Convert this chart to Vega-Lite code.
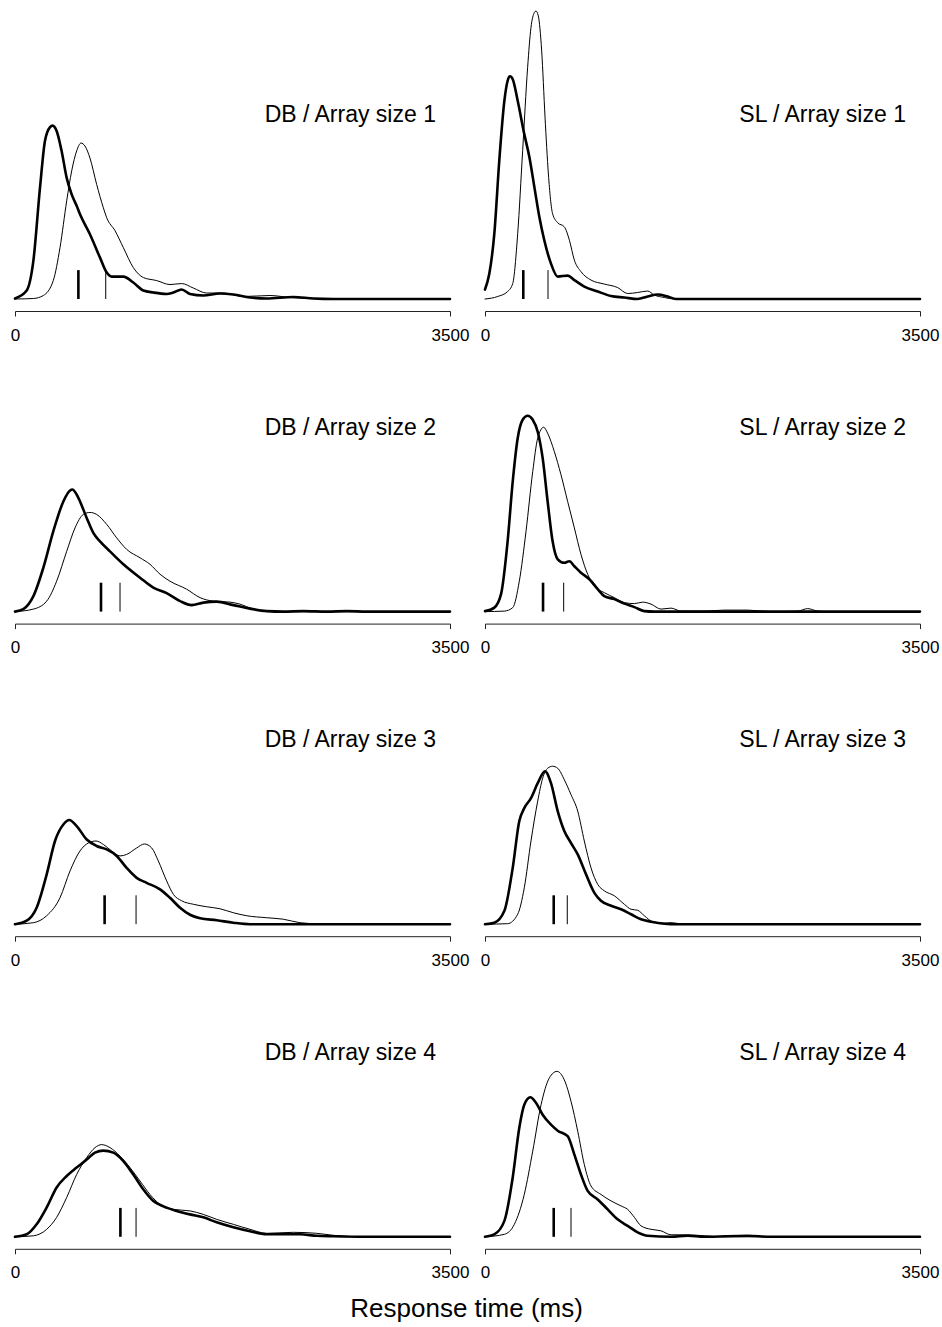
{
  "$schema": "https://vega.github.io/schema/vega-lite/v6.json",
  "padding": {"left": 10, "top": 10, "right": 3, "bottom": 0},
  "config": {"view": {"stroke": null}, "font": "Liberation Sans"},
  "title": {"text": "Response time (ms)", "orient": "bottom", "anchor": "middle", "fontSize": 26, "fontWeight": "normal", "font": "Liberation Sans", "color": "black", "offset": 15, "dx": -8},
  "data": {"values": [
    {"kind":"label","task":"DB","size":1,"label":"DB / Array size 1"},
    {"kind":"label","task":"SL","size":1,"label":"SL / Array size 1"},
    {"kind":"label","task":"DB","size":2,"label":"DB / Array size 2"},
    {"kind":"label","task":"SL","size":2,"label":"SL / Array size 2"},
    {"kind":"label","task":"DB","size":3,"label":"DB / Array size 3"},
    {"kind":"label","task":"SL","size":3,"label":"SL / Array size 3"},
    {"kind":"label","task":"DB","size":4,"label":"DB / Array size 4"},
    {"kind":"label","task":"SL","size":4,"label":"SL / Array size 4"},
    {"kind":"mean","task":"DB","size":1,"series":"A","rt":510},
    {"kind":"mean","task":"DB","size":1,"series":"B","rt":730},
    {"kind":"mean","task":"SL","size":1,"series":"A","rt":308},
    {"kind":"mean","task":"SL","size":1,"series":"B","rt":507},
    {"kind":"mean","task":"DB","size":2,"series":"A","rt":692},
    {"kind":"mean","task":"DB","size":2,"series":"B","rt":845},
    {"kind":"mean","task":"SL","size":2,"series":"A","rt":467},
    {"kind":"mean","task":"SL","size":2,"series":"B","rt":633},
    {"kind":"mean","task":"DB","size":3,"series":"A","rt":721},
    {"kind":"mean","task":"DB","size":3,"series":"B","rt":974},
    {"kind":"mean","task":"SL","size":3,"series":"A","rt":553},
    {"kind":"mean","task":"SL","size":3,"series":"B","rt":662},
    {"kind":"mean","task":"DB","size":4,"series":"A","rt":848},
    {"kind":"mean","task":"DB","size":4,"series":"B","rt":974},
    {"kind":"mean","task":"SL","size":4,"series":"A","rt":553},
    {"kind":"mean","task":"SL","size":4,"series":"B","rt":692},

    {"kind":"curve","task":"DB","size":1,"series":"A","rt":0,"d":0.01},
    {"kind":"curve","task":"DB","size":1,"series":"A","rt":94,"d":0.17},
    {"kind":"curve","task":"DB","size":1,"series":"A","rt":148,"d":0.77},
    {"kind":"curve","task":"DB","size":1,"series":"A","rt":201,"d":2.23},
    {"kind":"curve","task":"DB","size":1,"series":"A","rt":241,"d":3.17},
    {"kind":"curve","task":"DB","size":1,"series":"A","rt":282,"d":3.45},
    {"kind":"curve","task":"DB","size":1,"series":"A","rt":303,"d":3.48},
    {"kind":"curve","task":"DB","size":1,"series":"A","rt":335,"d":3.37},
    {"kind":"curve","task":"DB","size":1,"series":"A","rt":375,"d":2.97},
    {"kind":"curve","task":"DB","size":1,"series":"A","rt":416,"d":2.43},
    {"kind":"curve","task":"DB","size":1,"series":"A","rt":456,"d":2.1},
    {"kind":"curve","task":"DB","size":1,"series":"A","rt":496,"d":1.87},
    {"kind":"curve","task":"DB","size":1,"series":"A","rt":523,"d":1.7},
    {"kind":"curve","task":"DB","size":1,"series":"A","rt":603,"d":1.3},
    {"kind":"curve","task":"DB","size":1,"series":"A","rt":684,"d":0.83},
    {"kind":"curve","task":"DB","size":1,"series":"A","rt":738,"d":0.53},
    {"kind":"curve","task":"DB","size":1,"series":"A","rt":778,"d":0.45},
    {"kind":"curve","task":"DB","size":1,"series":"A","rt":872,"d":0.45},
    {"kind":"curve","task":"DB","size":1,"series":"A","rt":952,"d":0.33},
    {"kind":"curve","task":"DB","size":1,"series":"A","rt":1033,"d":0.17},
    {"kind":"curve","task":"DB","size":1,"series":"A","rt":1113,"d":0.13},
    {"kind":"curve","task":"DB","size":1,"series":"A","rt":1220,"d":0.1},
    {"kind":"curve","task":"DB","size":1,"series":"A","rt":1274,"d":0.13},
    {"kind":"curve","task":"DB","size":1,"series":"A","rt":1341,"d":0.19},
    {"kind":"curve","task":"DB","size":1,"series":"A","rt":1408,"d":0.1},
    {"kind":"curve","task":"DB","size":1,"series":"A","rt":1515,"d":0.07},
    {"kind":"curve","task":"DB","size":1,"series":"A","rt":1649,"d":0.11},
    {"kind":"curve","task":"DB","size":1,"series":"A","rt":1757,"d":0.09},
    {"kind":"curve","task":"DB","size":1,"series":"A","rt":1891,"d":0.03},
    {"kind":"curve","task":"DB","size":1,"series":"A","rt":2025,"d":0.01},
    {"kind":"curve","task":"DB","size":1,"series":"A","rt":2239,"d":0.04},
    {"kind":"curve","task":"DB","size":1,"series":"A","rt":2400,"d":0.01},
    {"kind":"curve","task":"DB","size":1,"series":"A","rt":2561,"d":0},
    {"kind":"curve","task":"DB","size":1,"series":"A","rt":3500,"d":0},

    {"kind":"curve","task":"DB","size":1,"series":"B","rt":0,"d":0},
    {"kind":"curve","task":"DB","size":1,"series":"B","rt":148,"d":0.01},
    {"kind":"curve","task":"DB","size":1,"series":"B","rt":228,"d":0.07},
    {"kind":"curve","task":"DB","size":1,"series":"B","rt":308,"d":0.37},
    {"kind":"curve","task":"DB","size":1,"series":"B","rt":362,"d":1.03},
    {"kind":"curve","task":"DB","size":1,"series":"B","rt":416,"d":1.97},
    {"kind":"curve","task":"DB","size":1,"series":"B","rt":456,"d":2.57},
    {"kind":"curve","task":"DB","size":1,"series":"B","rt":496,"d":2.97},
    {"kind":"curve","task":"DB","size":1,"series":"B","rt":531,"d":3.13},
    {"kind":"curve","task":"DB","size":1,"series":"B","rt":563,"d":3.07},
    {"kind":"curve","task":"DB","size":1,"series":"B","rt":603,"d":2.83},
    {"kind":"curve","task":"DB","size":1,"series":"B","rt":657,"d":2.3},
    {"kind":"curve","task":"DB","size":1,"series":"B","rt":711,"d":1.83},
    {"kind":"curve","task":"DB","size":1,"series":"B","rt":738,"d":1.63},
    {"kind":"curve","task":"DB","size":1,"series":"B","rt":805,"d":1.37},
    {"kind":"curve","task":"DB","size":1,"series":"B","rt":872,"d":1.03},
    {"kind":"curve","task":"DB","size":1,"series":"B","rt":952,"d":0.63},
    {"kind":"curve","task":"DB","size":1,"series":"B","rt":1033,"d":0.43},
    {"kind":"curve","task":"DB","size":1,"series":"B","rt":1140,"d":0.37},
    {"kind":"curve","task":"DB","size":1,"series":"B","rt":1247,"d":0.29},
    {"kind":"curve","task":"DB","size":1,"series":"B","rt":1341,"d":0.31},
    {"kind":"curve","task":"DB","size":1,"series":"B","rt":1435,"d":0.22},
    {"kind":"curve","task":"DB","size":1,"series":"B","rt":1542,"d":0.12},
    {"kind":"curve","task":"DB","size":1,"series":"B","rt":1676,"d":0.12},
    {"kind":"curve","task":"DB","size":1,"series":"B","rt":1837,"d":0.05},
    {"kind":"curve","task":"DB","size":1,"series":"B","rt":2052,"d":0.07},
    {"kind":"curve","task":"DB","size":1,"series":"B","rt":2213,"d":0.03},
    {"kind":"curve","task":"DB","size":1,"series":"B","rt":2400,"d":0.01},
    {"kind":"curve","task":"DB","size":1,"series":"B","rt":2600,"d":0},
    {"kind":"curve","task":"DB","size":1,"series":"B","rt":3500,"d":0},

    {"kind":"curve","task":"SL","size":1,"series":"A","rt":0,"d":0.19},
    {"kind":"curve","task":"SL","size":1,"series":"A","rt":35,"d":0.51},
    {"kind":"curve","task":"SL","size":1,"series":"A","rt":75,"d":1.31},
    {"kind":"curve","task":"SL","size":1,"series":"A","rt":115,"d":2.78},
    {"kind":"curve","task":"SL","size":1,"series":"A","rt":156,"d":3.98},
    {"kind":"curve","task":"SL","size":1,"series":"A","rt":182,"d":4.38},
    {"kind":"curve","task":"SL","size":1,"series":"A","rt":201,"d":4.47},
    {"kind":"curve","task":"SL","size":1,"series":"A","rt":223,"d":4.41},
    {"kind":"curve","task":"SL","size":1,"series":"A","rt":263,"d":3.98},
    {"kind":"curve","task":"SL","size":1,"series":"A","rt":316,"d":3.31},
    {"kind":"curve","task":"SL","size":1,"series":"A","rt":357,"d":2.85},
    {"kind":"curve","task":"SL","size":1,"series":"A","rt":397,"d":2.25},
    {"kind":"curve","task":"SL","size":1,"series":"A","rt":437,"d":1.65},
    {"kind":"curve","task":"SL","size":1,"series":"A","rt":477,"d":1.18},
    {"kind":"curve","task":"SL","size":1,"series":"A","rt":531,"d":0.71},
    {"kind":"curve","task":"SL","size":1,"series":"A","rt":585,"d":0.45},
    {"kind":"curve","task":"SL","size":1,"series":"A","rt":665,"d":0.47},
    {"kind":"curve","task":"SL","size":1,"series":"A","rt":719,"d":0.38},
    {"kind":"curve","task":"SL","size":1,"series":"A","rt":799,"d":0.25},
    {"kind":"curve","task":"SL","size":1,"series":"A","rt":907,"d":0.15},
    {"kind":"curve","task":"SL","size":1,"series":"A","rt":1014,"d":0.06},
    {"kind":"curve","task":"SL","size":1,"series":"A","rt":1121,"d":0.03},
    {"kind":"curve","task":"SL","size":1,"series":"A","rt":1228,"d":0},
    {"kind":"curve","task":"SL","size":1,"series":"A","rt":1309,"d":0.05},
    {"kind":"curve","task":"SL","size":1,"series":"A","rt":1389,"d":0.09},
    {"kind":"curve","task":"SL","size":1,"series":"A","rt":1470,"d":0.05},
    {"kind":"curve","task":"SL","size":1,"series":"A","rt":1537,"d":0},
    {"kind":"curve","task":"SL","size":1,"series":"A","rt":3500,"d":0},

    {"kind":"curve","task":"SL","size":1,"series":"B","rt":0,"d":0},
    {"kind":"curve","task":"SL","size":1,"series":"B","rt":102,"d":0.05},
    {"kind":"curve","task":"SL","size":1,"series":"B","rt":182,"d":0.15},
    {"kind":"curve","task":"SL","size":1,"series":"B","rt":223,"d":0.31},
    {"kind":"curve","task":"SL","size":1,"series":"B","rt":263,"d":1.31},
    {"kind":"curve","task":"SL","size":1,"series":"B","rt":303,"d":2.98},
    {"kind":"curve","task":"SL","size":1,"series":"B","rt":343,"d":4.65},
    {"kind":"curve","task":"SL","size":1,"series":"B","rt":370,"d":5.45},
    {"kind":"curve","task":"SL","size":1,"series":"B","rt":397,"d":5.75},
    {"kind":"curve","task":"SL","size":1,"series":"B","rt":410,"d":5.78},
    {"kind":"curve","task":"SL","size":1,"series":"B","rt":429,"d":5.68},
    {"kind":"curve","task":"SL","size":1,"series":"B","rt":456,"d":4.98},
    {"kind":"curve","task":"SL","size":1,"series":"B","rt":483,"d":3.65},
    {"kind":"curve","task":"SL","size":1,"series":"B","rt":510,"d":2.51},
    {"kind":"curve","task":"SL","size":1,"series":"B","rt":544,"d":1.71},
    {"kind":"curve","task":"SL","size":1,"series":"B","rt":585,"d":1.53},
    {"kind":"curve","task":"SL","size":1,"series":"B","rt":638,"d":1.45},
    {"kind":"curve","task":"SL","size":1,"series":"B","rt":679,"d":1.18},
    {"kind":"curve","task":"SL","size":1,"series":"B","rt":719,"d":0.78},
    {"kind":"curve","task":"SL","size":1,"series":"B","rt":772,"d":0.55},
    {"kind":"curve","task":"SL","size":1,"series":"B","rt":853,"d":0.38},
    {"kind":"curve","task":"SL","size":1,"series":"B","rt":960,"d":0.3},
    {"kind":"curve","task":"SL","size":1,"series":"B","rt":1067,"d":0.23},
    {"kind":"curve","task":"SL","size":1,"series":"B","rt":1148,"d":0.11},
    {"kind":"curve","task":"SL","size":1,"series":"B","rt":1228,"d":0.13},
    {"kind":"curve","task":"SL","size":1,"series":"B","rt":1309,"d":0.16},
    {"kind":"curve","task":"SL","size":1,"series":"B","rt":1362,"d":0.08},
    {"kind":"curve","task":"SL","size":1,"series":"B","rt":1443,"d":0.03},
    {"kind":"curve","task":"SL","size":1,"series":"B","rt":1523,"d":0},
    {"kind":"curve","task":"SL","size":1,"series":"B","rt":3500,"d":0},

    {"kind":"curve","task":"DB","size":2,"series":"A","rt":0,"d":0},
    {"kind":"curve","task":"DB","size":2,"series":"A","rt":67,"d":0.05},
    {"kind":"curve","task":"DB","size":2,"series":"A","rt":148,"d":0.31},
    {"kind":"curve","task":"DB","size":2,"series":"A","rt":228,"d":0.88},
    {"kind":"curve","task":"DB","size":2,"series":"A","rt":308,"d":1.61},
    {"kind":"curve","task":"DB","size":2,"series":"A","rt":389,"d":2.21},
    {"kind":"curve","task":"DB","size":2,"series":"A","rt":443,"d":2.43},
    {"kind":"curve","task":"DB","size":2,"series":"A","rt":461,"d":2.45},
    {"kind":"curve","task":"DB","size":2,"series":"A","rt":496,"d":2.35},
    {"kind":"curve","task":"DB","size":2,"series":"A","rt":523,"d":2.21},
    {"kind":"curve","task":"DB","size":2,"series":"A","rt":577,"d":1.88},
    {"kind":"curve","task":"DB","size":2,"series":"A","rt":630,"d":1.58},
    {"kind":"curve","task":"DB","size":2,"series":"A","rt":684,"d":1.41},
    {"kind":"curve","task":"DB","size":2,"series":"A","rt":764,"d":1.21},
    {"kind":"curve","task":"DB","size":2,"series":"A","rt":872,"d":0.95},
    {"kind":"curve","task":"DB","size":2,"series":"A","rt":1006,"d":0.68},
    {"kind":"curve","task":"DB","size":2,"series":"A","rt":1113,"d":0.48},
    {"kind":"curve","task":"DB","size":2,"series":"A","rt":1220,"d":0.37},
    {"kind":"curve","task":"DB","size":2,"series":"A","rt":1328,"d":0.21},
    {"kind":"curve","task":"DB","size":2,"series":"A","rt":1421,"d":0.13},
    {"kind":"curve","task":"DB","size":2,"series":"A","rt":1515,"d":0.18},
    {"kind":"curve","task":"DB","size":2,"series":"A","rt":1623,"d":0.2},
    {"kind":"curve","task":"DB","size":2,"series":"A","rt":1757,"d":0.13},
    {"kind":"curve","task":"DB","size":2,"series":"A","rt":1891,"d":0.06},
    {"kind":"curve","task":"DB","size":2,"series":"A","rt":2025,"d":0.01},
    {"kind":"curve","task":"DB","size":2,"series":"A","rt":2159,"d":0},
    {"kind":"curve","task":"DB","size":2,"series":"A","rt":2320,"d":0.01},
    {"kind":"curve","task":"DB","size":2,"series":"A","rt":2508,"d":0},
    {"kind":"curve","task":"DB","size":2,"series":"A","rt":2669,"d":0.01},
    {"kind":"curve","task":"DB","size":2,"series":"A","rt":2830,"d":0},
    {"kind":"curve","task":"DB","size":2,"series":"A","rt":3500,"d":0},

    {"kind":"curve","task":"DB","size":2,"series":"B","rt":0,"d":0},
    {"kind":"curve","task":"DB","size":2,"series":"B","rt":148,"d":0.05},
    {"kind":"curve","task":"DB","size":2,"series":"B","rt":255,"d":0.21},
    {"kind":"curve","task":"DB","size":2,"series":"B","rt":335,"d":0.61},
    {"kind":"curve","task":"DB","size":2,"series":"B","rt":416,"d":1.21},
    {"kind":"curve","task":"DB","size":2,"series":"B","rt":483,"d":1.68},
    {"kind":"curve","task":"DB","size":2,"series":"B","rt":550,"d":1.95},
    {"kind":"curve","task":"DB","size":2,"series":"B","rt":603,"d":1.99},
    {"kind":"curve","task":"DB","size":2,"series":"B","rt":657,"d":1.95},
    {"kind":"curve","task":"DB","size":2,"series":"B","rt":738,"d":1.75},
    {"kind":"curve","task":"DB","size":2,"series":"B","rt":818,"d":1.48},
    {"kind":"curve","task":"DB","size":2,"series":"B","rt":898,"d":1.25},
    {"kind":"curve","task":"DB","size":2,"series":"B","rt":1006,"d":1.08},
    {"kind":"curve","task":"DB","size":2,"series":"B","rt":1086,"d":0.95},
    {"kind":"curve","task":"DB","size":2,"series":"B","rt":1167,"d":0.75},
    {"kind":"curve","task":"DB","size":2,"series":"B","rt":1247,"d":0.61},
    {"kind":"curve","task":"DB","size":2,"series":"B","rt":1381,"d":0.45},
    {"kind":"curve","task":"DB","size":2,"series":"B","rt":1489,"d":0.28},
    {"kind":"curve","task":"DB","size":2,"series":"B","rt":1596,"d":0.21},
    {"kind":"curve","task":"DB","size":2,"series":"B","rt":1730,"d":0.19},
    {"kind":"curve","task":"DB","size":2,"series":"B","rt":1810,"d":0.15},
    {"kind":"curve","task":"DB","size":2,"series":"B","rt":1918,"d":0.05},
    {"kind":"curve","task":"DB","size":2,"series":"B","rt":2025,"d":0.01},
    {"kind":"curve","task":"DB","size":2,"series":"B","rt":2159,"d":0},
    {"kind":"curve","task":"DB","size":2,"series":"B","rt":3500,"d":0},

    {"kind":"curve","task":"SL","size":2,"series":"A","rt":0,"d":0.01},
    {"kind":"curve","task":"SL","size":2,"series":"A","rt":75,"d":0.08},
    {"kind":"curve","task":"SL","size":2,"series":"A","rt":129,"d":0.35},
    {"kind":"curve","task":"SL","size":2,"series":"A","rt":182,"d":1.41},
    {"kind":"curve","task":"SL","size":2,"series":"A","rt":223,"d":2.61},
    {"kind":"curve","task":"SL","size":2,"series":"A","rt":263,"d":3.48},
    {"kind":"curve","task":"SL","size":2,"series":"A","rt":303,"d":3.85},
    {"kind":"curve","task":"SL","size":2,"series":"A","rt":343,"d":3.93},
    {"kind":"curve","task":"SL","size":2,"series":"A","rt":384,"d":3.85},
    {"kind":"curve","task":"SL","size":2,"series":"A","rt":424,"d":3.61},
    {"kind":"curve","task":"SL","size":2,"series":"A","rt":464,"d":3.08},
    {"kind":"curve","task":"SL","size":2,"series":"A","rt":504,"d":2.21},
    {"kind":"curve","task":"SL","size":2,"series":"A","rt":544,"d":1.41},
    {"kind":"curve","task":"SL","size":2,"series":"A","rt":585,"d":1.05},
    {"kind":"curve","task":"SL","size":2,"series":"A","rt":638,"d":0.98},
    {"kind":"curve","task":"SL","size":2,"series":"A","rt":679,"d":1.01},
    {"kind":"curve","task":"SL","size":2,"series":"A","rt":719,"d":0.91},
    {"kind":"curve","task":"SL","size":2,"series":"A","rt":772,"d":0.78},
    {"kind":"curve","task":"SL","size":2,"series":"A","rt":840,"d":0.65},
    {"kind":"curve","task":"SL","size":2,"series":"A","rt":907,"d":0.45},
    {"kind":"curve","task":"SL","size":2,"series":"A","rt":960,"d":0.31},
    {"kind":"curve","task":"SL","size":2,"series":"A","rt":1041,"d":0.25},
    {"kind":"curve","task":"SL","size":2,"series":"A","rt":1121,"d":0.16},
    {"kind":"curve","task":"SL","size":2,"series":"A","rt":1202,"d":0.09},
    {"kind":"curve","task":"SL","size":2,"series":"A","rt":1282,"d":0.01},
    {"kind":"curve","task":"SL","size":2,"series":"A","rt":1362,"d":0},
    {"kind":"curve","task":"SL","size":2,"series":"A","rt":3500,"d":0},

    {"kind":"curve","task":"SL","size":2,"series":"B","rt":0,"d":0},
    {"kind":"curve","task":"SL","size":2,"series":"B","rt":156,"d":0.01},
    {"kind":"curve","task":"SL","size":2,"series":"B","rt":223,"d":0.08},
    {"kind":"curve","task":"SL","size":2,"series":"B","rt":276,"d":0.61},
    {"kind":"curve","task":"SL","size":2,"series":"B","rt":330,"d":1.61},
    {"kind":"curve","task":"SL","size":2,"series":"B","rt":384,"d":2.81},
    {"kind":"curve","task":"SL","size":2,"series":"B","rt":424,"d":3.48},
    {"kind":"curve","task":"SL","size":2,"series":"B","rt":472,"d":3.7},
    {"kind":"curve","task":"SL","size":2,"series":"B","rt":504,"d":3.58},
    {"kind":"curve","task":"SL","size":2,"series":"B","rt":558,"d":3.21},
    {"kind":"curve","task":"SL","size":2,"series":"B","rt":611,"d":2.75},
    {"kind":"curve","task":"SL","size":2,"series":"B","rt":665,"d":2.21},
    {"kind":"curve","task":"SL","size":2,"series":"B","rt":719,"d":1.68},
    {"kind":"curve","task":"SL","size":2,"series":"B","rt":772,"d":1.15},
    {"kind":"curve","task":"SL","size":2,"series":"B","rt":826,"d":0.75},
    {"kind":"curve","task":"SL","size":2,"series":"B","rt":880,"d":0.51},
    {"kind":"curve","task":"SL","size":2,"series":"B","rt":960,"d":0.38},
    {"kind":"curve","task":"SL","size":2,"series":"B","rt":1041,"d":0.28},
    {"kind":"curve","task":"SL","size":2,"series":"B","rt":1121,"d":0.18},
    {"kind":"curve","task":"SL","size":2,"series":"B","rt":1202,"d":0.16},
    {"kind":"curve","task":"SL","size":2,"series":"B","rt":1269,"d":0.19},
    {"kind":"curve","task":"SL","size":2,"series":"B","rt":1336,"d":0.15},
    {"kind":"curve","task":"SL","size":2,"series":"B","rt":1416,"d":0.05},
    {"kind":"curve","task":"SL","size":2,"series":"B","rt":1497,"d":0.07},
    {"kind":"curve","task":"SL","size":2,"series":"B","rt":1577,"d":0.01},
    {"kind":"curve","task":"SL","size":2,"series":"B","rt":1765,"d":0.01},
    {"kind":"curve","task":"SL","size":2,"series":"B","rt":1926,"d":0.03},
    {"kind":"curve","task":"SL","size":2,"series":"B","rt":2113,"d":0.03},
    {"kind":"curve","task":"SL","size":2,"series":"B","rt":2301,"d":0},
    {"kind":"curve","task":"SL","size":2,"series":"B","rt":2516,"d":0.01},
    {"kind":"curve","task":"SL","size":2,"series":"B","rt":2596,"d":0.06},
    {"kind":"curve","task":"SL","size":2,"series":"B","rt":2677,"d":0.01},
    {"kind":"curve","task":"SL","size":2,"series":"B","rt":2757,"d":0},
    {"kind":"curve","task":"SL","size":2,"series":"B","rt":3500,"d":0},

    {"kind":"curve","task":"DB","size":3,"series":"A","rt":0,"d":0},
    {"kind":"curve","task":"DB","size":3,"series":"A","rt":94,"d":0.07},
    {"kind":"curve","task":"DB","size":3,"series":"A","rt":174,"d":0.33},
    {"kind":"curve","task":"DB","size":3,"series":"A","rt":255,"d":1.0},
    {"kind":"curve","task":"DB","size":3,"series":"A","rt":322,"d":1.67},
    {"kind":"curve","task":"DB","size":3,"series":"A","rt":389,"d":2.0},
    {"kind":"curve","task":"DB","size":3,"series":"A","rt":437,"d":2.09},
    {"kind":"curve","task":"DB","size":3,"series":"A","rt":496,"d":1.97},
    {"kind":"curve","task":"DB","size":3,"series":"A","rt":577,"d":1.7},
    {"kind":"curve","task":"DB","size":3,"series":"A","rt":657,"d":1.57},
    {"kind":"curve","task":"DB","size":3,"series":"A","rt":738,"d":1.5},
    {"kind":"curve","task":"DB","size":3,"series":"A","rt":818,"d":1.37},
    {"kind":"curve","task":"DB","size":3,"series":"A","rt":898,"d":1.13},
    {"kind":"curve","task":"DB","size":3,"series":"A","rt":979,"d":0.93},
    {"kind":"curve","task":"DB","size":3,"series":"A","rt":1059,"d":0.83},
    {"kind":"curve","task":"DB","size":3,"series":"A","rt":1167,"d":0.7},
    {"kind":"curve","task":"DB","size":3,"series":"A","rt":1247,"d":0.53},
    {"kind":"curve","task":"DB","size":3,"series":"A","rt":1328,"d":0.33},
    {"kind":"curve","task":"DB","size":3,"series":"A","rt":1408,"d":0.19},
    {"kind":"curve","task":"DB","size":3,"series":"A","rt":1489,"d":0.12},
    {"kind":"curve","task":"DB","size":3,"series":"A","rt":1623,"d":0.08},
    {"kind":"curve","task":"DB","size":3,"series":"A","rt":1757,"d":0.03},
    {"kind":"curve","task":"DB","size":3,"series":"A","rt":1891,"d":0},
    {"kind":"curve","task":"DB","size":3,"series":"A","rt":3500,"d":0},

    {"kind":"curve","task":"DB","size":3,"series":"B","rt":0,"d":0},
    {"kind":"curve","task":"DB","size":3,"series":"B","rt":148,"d":0.03},
    {"kind":"curve","task":"DB","size":3,"series":"B","rt":255,"d":0.17},
    {"kind":"curve","task":"DB","size":3,"series":"B","rt":362,"d":0.53},
    {"kind":"curve","task":"DB","size":3,"series":"B","rt":443,"d":1.07},
    {"kind":"curve","task":"DB","size":3,"series":"B","rt":523,"d":1.47},
    {"kind":"curve","task":"DB","size":3,"series":"B","rt":590,"d":1.63},
    {"kind":"curve","task":"DB","size":3,"series":"B","rt":652,"d":1.67},
    {"kind":"curve","task":"DB","size":3,"series":"B","rt":711,"d":1.6},
    {"kind":"curve","task":"DB","size":3,"series":"B","rt":778,"d":1.47},
    {"kind":"curve","task":"DB","size":3,"series":"B","rt":845,"d":1.37},
    {"kind":"curve","task":"DB","size":3,"series":"B","rt":898,"d":1.4},
    {"kind":"curve","task":"DB","size":3,"series":"B","rt":979,"d":1.53},
    {"kind":"curve","task":"DB","size":3,"series":"B","rt":1041,"d":1.61},
    {"kind":"curve","task":"DB","size":3,"series":"B","rt":1100,"d":1.53},
    {"kind":"curve","task":"DB","size":3,"series":"B","rt":1153,"d":1.27},
    {"kind":"curve","task":"DB","size":3,"series":"B","rt":1220,"d":0.87},
    {"kind":"curve","task":"DB","size":3,"series":"B","rt":1274,"d":0.6},
    {"kind":"curve","task":"DB","size":3,"series":"B","rt":1341,"d":0.47},
    {"kind":"curve","task":"DB","size":3,"series":"B","rt":1435,"d":0.4},
    {"kind":"curve","task":"DB","size":3,"series":"B","rt":1542,"d":0.35},
    {"kind":"curve","task":"DB","size":3,"series":"B","rt":1649,"d":0.31},
    {"kind":"curve","task":"DB","size":3,"series":"B","rt":1757,"d":0.23},
    {"kind":"curve","task":"DB","size":3,"series":"B","rt":1864,"d":0.17},
    {"kind":"curve","task":"DB","size":3,"series":"B","rt":2025,"d":0.13},
    {"kind":"curve","task":"DB","size":3,"series":"B","rt":2159,"d":0.1},
    {"kind":"curve","task":"DB","size":3,"series":"B","rt":2293,"d":0.03},
    {"kind":"curve","task":"DB","size":3,"series":"B","rt":2427,"d":0.01},
    {"kind":"curve","task":"DB","size":3,"series":"B","rt":2669,"d":0.01},
    {"kind":"curve","task":"DB","size":3,"series":"B","rt":2830,"d":0},
    {"kind":"curve","task":"DB","size":3,"series":"B","rt":3500,"d":0},

    {"kind":"curve","task":"SL","size":3,"series":"A","rt":0,"d":0},
    {"kind":"curve","task":"SL","size":3,"series":"A","rt":75,"d":0.03},
    {"kind":"curve","task":"SL","size":3,"series":"A","rt":156,"d":0.27},
    {"kind":"curve","task":"SL","size":3,"series":"A","rt":223,"d":1.13},
    {"kind":"curve","task":"SL","size":3,"series":"A","rt":276,"d":2.07},
    {"kind":"curve","task":"SL","size":3,"series":"A","rt":316,"d":2.33},
    {"kind":"curve","task":"SL","size":3,"series":"A","rt":370,"d":2.53},
    {"kind":"curve","task":"SL","size":3,"series":"A","rt":424,"d":2.83},
    {"kind":"curve","task":"SL","size":3,"series":"A","rt":483,"d":3.07},
    {"kind":"curve","task":"SL","size":3,"series":"A","rt":531,"d":2.83},
    {"kind":"curve","task":"SL","size":3,"series":"A","rt":585,"d":2.27},
    {"kind":"curve","task":"SL","size":3,"series":"A","rt":638,"d":1.87},
    {"kind":"curve","task":"SL","size":3,"series":"A","rt":692,"d":1.63},
    {"kind":"curve","task":"SL","size":3,"series":"A","rt":746,"d":1.4},
    {"kind":"curve","task":"SL","size":3,"series":"A","rt":813,"d":1.0},
    {"kind":"curve","task":"SL","size":3,"series":"A","rt":880,"d":0.63},
    {"kind":"curve","task":"SL","size":3,"series":"A","rt":933,"d":0.47},
    {"kind":"curve","task":"SL","size":3,"series":"A","rt":1014,"d":0.37},
    {"kind":"curve","task":"SL","size":3,"series":"A","rt":1094,"d":0.3},
    {"kind":"curve","task":"SL","size":3,"series":"A","rt":1175,"d":0.2},
    {"kind":"curve","task":"SL","size":3,"series":"A","rt":1255,"d":0.1},
    {"kind":"curve","task":"SL","size":3,"series":"A","rt":1336,"d":0.05},
    {"kind":"curve","task":"SL","size":3,"series":"A","rt":1443,"d":0.01},
    {"kind":"curve","task":"SL","size":3,"series":"A","rt":1550,"d":0},
    {"kind":"curve","task":"SL","size":3,"series":"A","rt":3500,"d":0},

    {"kind":"curve","task":"SL","size":3,"series":"B","rt":0,"d":0},
    {"kind":"curve","task":"SL","size":3,"series":"B","rt":182,"d":0.01},
    {"kind":"curve","task":"SL","size":3,"series":"B","rt":263,"d":0.2},
    {"kind":"curve","task":"SL","size":3,"series":"B","rt":316,"d":0.73},
    {"kind":"curve","task":"SL","size":3,"series":"B","rt":370,"d":1.67},
    {"kind":"curve","task":"SL","size":3,"series":"B","rt":424,"d":2.47},
    {"kind":"curve","task":"SL","size":3,"series":"B","rt":464,"d":2.93},
    {"kind":"curve","task":"SL","size":3,"series":"B","rt":504,"d":3.13},
    {"kind":"curve","task":"SL","size":3,"series":"B","rt":544,"d":3.17},
    {"kind":"curve","task":"SL","size":3,"series":"B","rt":585,"d":3.13},
    {"kind":"curve","task":"SL","size":3,"series":"B","rt":638,"d":2.9},
    {"kind":"curve","task":"SL","size":3,"series":"B","rt":692,"d":2.6},
    {"kind":"curve","task":"SL","size":3,"series":"B","rt":746,"d":2.27},
    {"kind":"curve","task":"SL","size":3,"series":"B","rt":799,"d":1.67},
    {"kind":"curve","task":"SL","size":3,"series":"B","rt":853,"d":1.13},
    {"kind":"curve","task":"SL","size":3,"series":"B","rt":907,"d":0.8},
    {"kind":"curve","task":"SL","size":3,"series":"B","rt":960,"d":0.67},
    {"kind":"curve","task":"SL","size":3,"series":"B","rt":1041,"d":0.57},
    {"kind":"curve","task":"SL","size":3,"series":"B","rt":1121,"d":0.4},
    {"kind":"curve","task":"SL","size":3,"series":"B","rt":1175,"d":0.3},
    {"kind":"curve","task":"SL","size":3,"series":"B","rt":1228,"d":0.28},
    {"kind":"curve","task":"SL","size":3,"series":"B","rt":1282,"d":0.17},
    {"kind":"curve","task":"SL","size":3,"series":"B","rt":1349,"d":0.05},
    {"kind":"curve","task":"SL","size":3,"series":"B","rt":1443,"d":0.02},
    {"kind":"curve","task":"SL","size":3,"series":"B","rt":1497,"d":0.03},
    {"kind":"curve","task":"SL","size":3,"series":"B","rt":1604,"d":0},
    {"kind":"curve","task":"SL","size":3,"series":"B","rt":3500,"d":0},

    {"kind":"curve","task":"DB","size":4,"series":"A","rt":0,"d":0},
    {"kind":"curve","task":"DB","size":4,"series":"A","rt":94,"d":0.05},
    {"kind":"curve","task":"DB","size":4,"series":"A","rt":174,"d":0.25},
    {"kind":"curve","task":"DB","size":4,"series":"A","rt":255,"d":0.59},
    {"kind":"curve","task":"DB","size":4,"series":"A","rt":335,"d":0.99},
    {"kind":"curve","task":"DB","size":4,"series":"A","rt":416,"d":1.22},
    {"kind":"curve","task":"DB","size":4,"series":"A","rt":496,"d":1.39},
    {"kind":"curve","task":"DB","size":4,"series":"A","rt":577,"d":1.55},
    {"kind":"curve","task":"DB","size":4,"series":"A","rt":644,"d":1.69},
    {"kind":"curve","task":"DB","size":4,"series":"A","rt":711,"d":1.73},
    {"kind":"curve","task":"DB","size":4,"series":"A","rt":791,"d":1.69},
    {"kind":"curve","task":"DB","size":4,"series":"A","rt":872,"d":1.52},
    {"kind":"curve","task":"DB","size":4,"series":"A","rt":952,"d":1.25},
    {"kind":"curve","task":"DB","size":4,"series":"A","rt":1033,"d":0.95},
    {"kind":"curve","task":"DB","size":4,"series":"A","rt":1113,"d":0.72},
    {"kind":"curve","task":"DB","size":4,"series":"A","rt":1194,"d":0.61},
    {"kind":"curve","task":"DB","size":4,"series":"A","rt":1301,"d":0.52},
    {"kind":"curve","task":"DB","size":4,"series":"A","rt":1408,"d":0.45},
    {"kind":"curve","task":"DB","size":4,"series":"A","rt":1515,"d":0.39},
    {"kind":"curve","task":"DB","size":4,"series":"A","rt":1623,"d":0.29},
    {"kind":"curve","task":"DB","size":4,"series":"A","rt":1757,"d":0.19},
    {"kind":"curve","task":"DB","size":4,"series":"A","rt":1891,"d":0.11},
    {"kind":"curve","task":"DB","size":4,"series":"A","rt":2025,"d":0.05},
    {"kind":"curve","task":"DB","size":4,"series":"A","rt":2159,"d":0.05},
    {"kind":"curve","task":"DB","size":4,"series":"A","rt":2293,"d":0.05},
    {"kind":"curve","task":"DB","size":4,"series":"A","rt":2427,"d":0.02},
    {"kind":"curve","task":"DB","size":4,"series":"A","rt":2561,"d":0.01},
    {"kind":"curve","task":"DB","size":4,"series":"A","rt":2830,"d":0},
    {"kind":"curve","task":"DB","size":4,"series":"A","rt":3500,"d":0},

    {"kind":"curve","task":"DB","size":4,"series":"B","rt":0,"d":0},
    {"kind":"curve","task":"DB","size":4,"series":"B","rt":148,"d":0.02},
    {"kind":"curve","task":"DB","size":4,"series":"B","rt":255,"d":0.15},
    {"kind":"curve","task":"DB","size":4,"series":"B","rt":335,"d":0.39},
    {"kind":"curve","task":"DB","size":4,"series":"B","rt":416,"d":0.79},
    {"kind":"curve","task":"DB","size":4,"series":"B","rt":496,"d":1.25},
    {"kind":"curve","task":"DB","size":4,"series":"B","rt":577,"d":1.59},
    {"kind":"curve","task":"DB","size":4,"series":"B","rt":644,"d":1.79},
    {"kind":"curve","task":"DB","size":4,"series":"B","rt":697,"d":1.85},
    {"kind":"curve","task":"DB","size":4,"series":"B","rt":764,"d":1.79},
    {"kind":"curve","task":"DB","size":4,"series":"B","rt":845,"d":1.62},
    {"kind":"curve","task":"DB","size":4,"series":"B","rt":925,"d":1.39},
    {"kind":"curve","task":"DB","size":4,"series":"B","rt":1006,"d":1.12},
    {"kind":"curve","task":"DB","size":4,"series":"B","rt":1086,"d":0.85},
    {"kind":"curve","task":"DB","size":4,"series":"B","rt":1167,"d":0.65},
    {"kind":"curve","task":"DB","size":4,"series":"B","rt":1274,"d":0.55},
    {"kind":"curve","task":"DB","size":4,"series":"B","rt":1408,"d":0.52},
    {"kind":"curve","task":"DB","size":4,"series":"B","rt":1515,"d":0.45},
    {"kind":"curve","task":"DB","size":4,"series":"B","rt":1623,"d":0.35},
    {"kind":"curve","task":"DB","size":4,"series":"B","rt":1757,"d":0.25},
    {"kind":"curve","task":"DB","size":4,"series":"B","rt":1891,"d":0.15},
    {"kind":"curve","task":"DB","size":4,"series":"B","rt":2025,"d":0.07},
    {"kind":"curve","task":"DB","size":4,"series":"B","rt":2239,"d":0.09},
    {"kind":"curve","task":"DB","size":4,"series":"B","rt":2427,"d":0.07},
    {"kind":"curve","task":"DB","size":4,"series":"B","rt":2561,"d":0.03},
    {"kind":"curve","task":"DB","size":4,"series":"B","rt":2776,"d":0},
    {"kind":"curve","task":"DB","size":4,"series":"B","rt":3500,"d":0},

    {"kind":"curve","task":"SL","size":4,"series":"A","rt":0,"d":0},
    {"kind":"curve","task":"SL","size":4,"series":"A","rt":75,"d":0.05},
    {"kind":"curve","task":"SL","size":4,"series":"A","rt":156,"d":0.32},
    {"kind":"curve","task":"SL","size":4,"series":"A","rt":223,"d":1.19},
    {"kind":"curve","task":"SL","size":4,"series":"A","rt":276,"d":2.19},
    {"kind":"curve","task":"SL","size":4,"series":"A","rt":316,"d":2.65},
    {"kind":"curve","task":"SL","size":4,"series":"A","rt":365,"d":2.8},
    {"kind":"curve","task":"SL","size":4,"series":"A","rt":410,"d":2.69},
    {"kind":"curve","task":"SL","size":4,"series":"A","rt":464,"d":2.45},
    {"kind":"curve","task":"SL","size":4,"series":"A","rt":531,"d":2.25},
    {"kind":"curve","task":"SL","size":4,"series":"A","rt":585,"d":2.13},
    {"kind":"curve","task":"SL","size":4,"series":"A","rt":665,"d":2.02},
    {"kind":"curve","task":"SL","size":4,"series":"A","rt":719,"d":1.65},
    {"kind":"curve","task":"SL","size":4,"series":"A","rt":772,"d":1.25},
    {"kind":"curve","task":"SL","size":4,"series":"A","rt":826,"d":0.92},
    {"kind":"curve","task":"SL","size":4,"series":"A","rt":907,"d":0.75},
    {"kind":"curve","task":"SL","size":4,"series":"A","rt":987,"d":0.55},
    {"kind":"curve","task":"SL","size":4,"series":"A","rt":1067,"d":0.35},
    {"kind":"curve","task":"SL","size":4,"series":"A","rt":1148,"d":0.22},
    {"kind":"curve","task":"SL","size":4,"series":"A","rt":1228,"d":0.09},
    {"kind":"curve","task":"SL","size":4,"series":"A","rt":1309,"d":0.02},
    {"kind":"curve","task":"SL","size":4,"series":"A","rt":1497,"d":0},
    {"kind":"curve","task":"SL","size":4,"series":"A","rt":1631,"d":0.02},
    {"kind":"curve","task":"SL","size":4,"series":"A","rt":1765,"d":0},
    {"kind":"curve","task":"SL","size":4,"series":"A","rt":2113,"d":0.02},
    {"kind":"curve","task":"SL","size":4,"series":"A","rt":2301,"d":0},
    {"kind":"curve","task":"SL","size":4,"series":"A","rt":3500,"d":0},

    {"kind":"curve","task":"SL","size":4,"series":"B","rt":0,"d":0},
    {"kind":"curve","task":"SL","size":4,"series":"B","rt":156,"d":0.05},
    {"kind":"curve","task":"SL","size":4,"series":"B","rt":236,"d":0.25},
    {"kind":"curve","task":"SL","size":4,"series":"B","rt":316,"d":0.85},
    {"kind":"curve","task":"SL","size":4,"series":"B","rt":384,"d":1.72},
    {"kind":"curve","task":"SL","size":4,"series":"B","rt":451,"d":2.65},
    {"kind":"curve","task":"SL","size":4,"series":"B","rt":518,"d":3.19},
    {"kind":"curve","task":"SL","size":4,"series":"B","rt":579,"d":3.32},
    {"kind":"curve","task":"SL","size":4,"series":"B","rt":638,"d":3.15},
    {"kind":"curve","task":"SL","size":4,"series":"B","rt":692,"d":2.72},
    {"kind":"curve","task":"SL","size":4,"series":"B","rt":746,"d":2.12},
    {"kind":"curve","task":"SL","size":4,"series":"B","rt":799,"d":1.45},
    {"kind":"curve","task":"SL","size":4,"series":"B","rt":853,"d":1.02},
    {"kind":"curve","task":"SL","size":4,"series":"B","rt":933,"d":0.85},
    {"kind":"curve","task":"SL","size":4,"series":"B","rt":1014,"d":0.72},
    {"kind":"curve","task":"SL","size":4,"series":"B","rt":1094,"d":0.62},
    {"kind":"curve","task":"SL","size":4,"series":"B","rt":1148,"d":0.55},
    {"kind":"curve","task":"SL","size":4,"series":"B","rt":1202,"d":0.39},
    {"kind":"curve","task":"SL","size":4,"series":"B","rt":1255,"d":0.22},
    {"kind":"curve","task":"SL","size":4,"series":"B","rt":1336,"d":0.15},
    {"kind":"curve","task":"SL","size":4,"series":"B","rt":1416,"d":0.12},
    {"kind":"curve","task":"SL","size":4,"series":"B","rt":1497,"d":0.04},
    {"kind":"curve","task":"SL","size":4,"series":"B","rt":1631,"d":0.04},
    {"kind":"curve","task":"SL","size":4,"series":"B","rt":1765,"d":0.02},
    {"kind":"curve","task":"SL","size":4,"series":"B","rt":1926,"d":0},
    {"kind":"curve","task":"SL","size":4,"series":"B","rt":3500,"d":0}
  ]},
  "facet": {
    "row": {"field": "size", "type": "ordinal", "header": null},
    "column": {"field": "task", "type": "nominal", "header": null}
  },
  "spacing": {"row": 24.6, "column": 35},
  "bounds": "flush",
  "resolve": {"axis": {"x": "independent"}},
  "spec": {
    "width": 435,
    "height": 288,
    "layer": [
      {
        "transform": [{"filter": "datum.kind === 'curve'"}],
        "mark": {"type": "line", "interpolate": "monotone", "color": "black", "strokeCap": "round", "strokeJoin": "round"},
        "encoding": {
          "x": {"field": "rt", "type": "quantitative",
            "scale": {"domain": [0, 3500], "nice": false, "zero": false},
            "axis": {"values": [0, 3500], "format": "d", "title": null, "grid": false, "labelFlush": false, "labelOverlap": false,
              "labelFontSize": 17, "labelFont": "Liberation Sans", "labelColor": "black", "labelPadding": 11,
              "tickSize": 5, "tickColor": "#222", "domainColor": "#222", "domainWidth": 1, "tickWidth": 1, "offset": 12}},
          "y": {"field": "d", "type": "quantitative", "scale": {"domain": [0, 5.78], "nice": false}, "axis": null},
          "detail": {"field": "series", "type": "nominal"},
          "strokeWidth": {"field": "series", "type": "nominal", "scale": {"domain": ["A", "B"], "range": [2.6, 1]}, "legend": null}
        }
      },
      {
        "transform": [{"filter": "datum.kind === 'mean'"}],
        "mark": {"type": "rule", "color": "black"},
        "encoding": {
          "x": {"field": "rt", "type": "quantitative"},
          "y": {"datum": 0, "type": "quantitative", "axis": null},
          "y2": {"datum": 0.58},
          "strokeWidth": {"field": "series", "type": "nominal", "scale": {"domain": ["A", "B"], "range": [2.6, 1]}, "legend": null}
        }
      },
      {
        "transform": [{"filter": "datum.kind === 'label'"}],
        "mark": {"type": "text", "align": "right", "baseline": "alphabetic", "fontSize": 23, "font": "Liberation Sans", "color": "black"},
        "encoding": {
          "x": {"datum": 3387, "type": "quantitative"},
          "y": {"datum": 3.55, "type": "quantitative", "axis": null},
          "text": {"field": "label", "type": "nominal"}
        }
      }
    ]
  }
}
